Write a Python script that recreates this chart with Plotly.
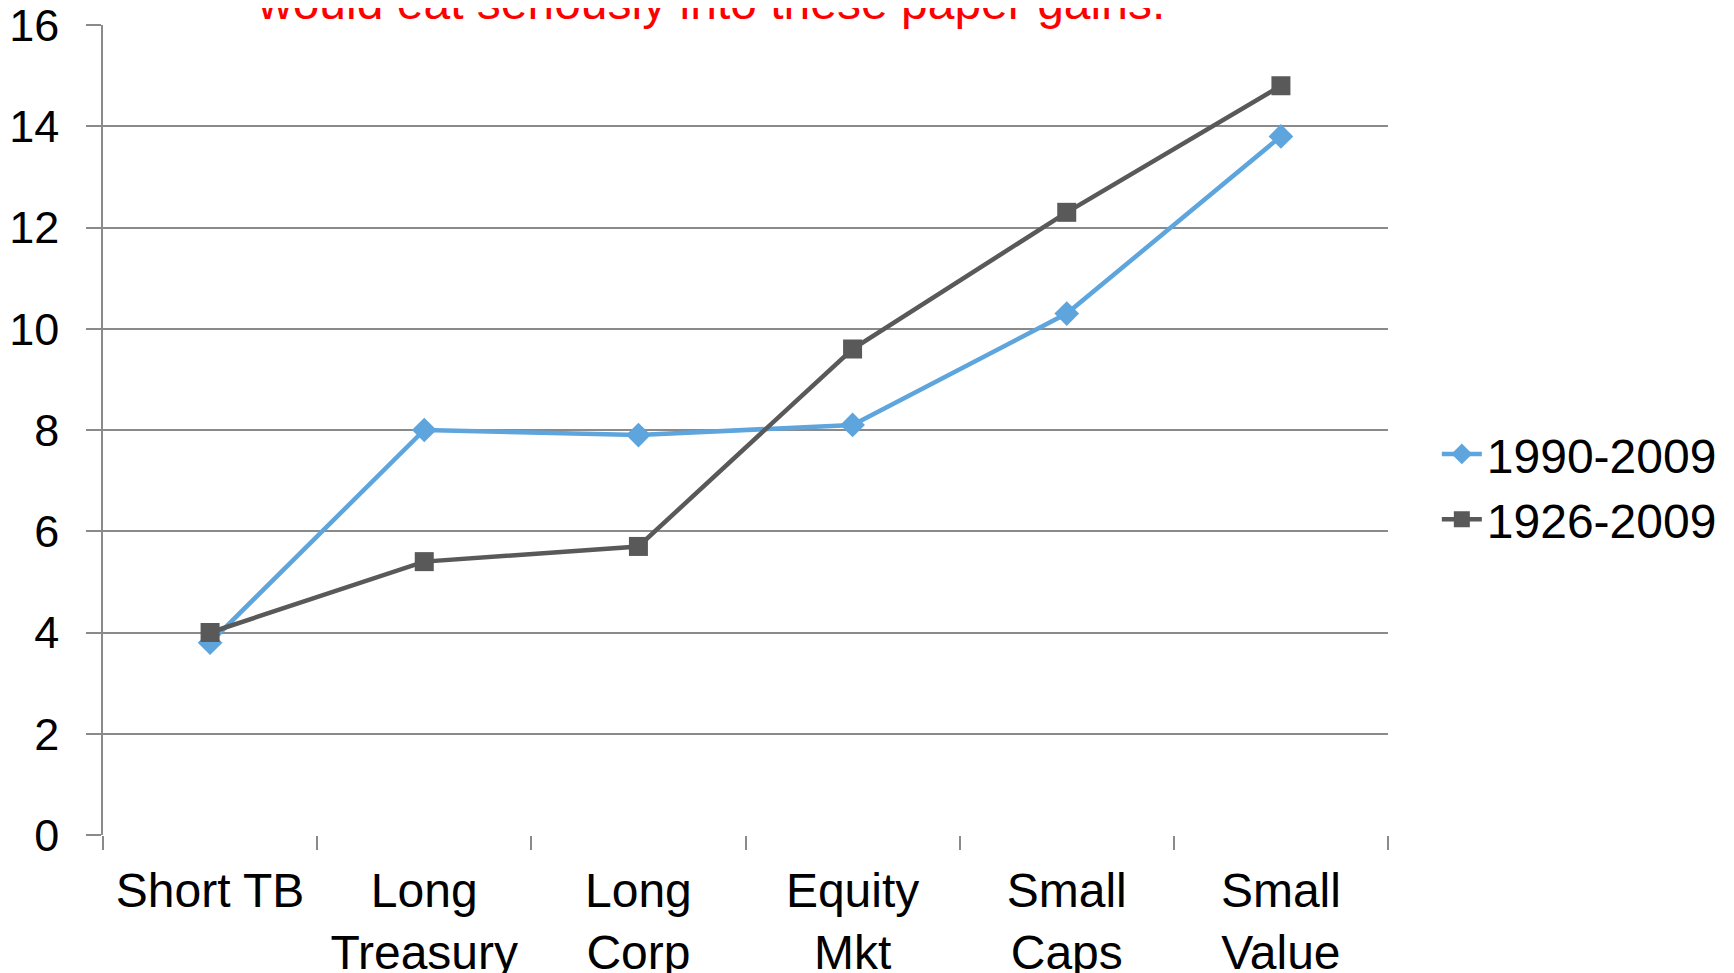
import plotly.graph_objects as go

categories = ["Short TB", "Long<br>Treasury", "Long<br>Corp", "Equity<br>Mkt", "Small<br>Caps", "Small<br>Value"]
s1990_2009 = [3.8, 8.0, 7.9, 8.1, 10.3, 13.8]
s1926_2009 = [4.0, 5.4, 5.7, 9.6, 12.3, 14.8]
y_ticks = [0, 2, 4, 6, 8, 10, 12, 14, 16]
title_text = "would eat seriously into these paper gains."

FONT = "Liberation Sans, Arial, sans-serif"
GRID = "#8a8a8a"

fig = go.Figure()
fig.add_trace(go.Scatter(
    x=categories, y=s1990_2009, name="1990-2009", mode="lines+markers",
    line=dict(color="#5da5dc", width=4.5),
    marker=dict(symbol="diamond", size=19, color="#5da5dc"),
))
fig.add_trace(go.Scatter(
    x=categories, y=s1926_2009, name="1926-2009", mode="lines+markers",
    line=dict(color="#595959", width=4.5),
    marker=dict(symbol="square", size=19, color="#595959"),
))

fig.update_layout(
    width=1726, height=965,
    margin=dict(l=95, r=342, t=17, b=138),
    paper_bgcolor="white", plot_bgcolor="white",
    font=dict(family=FONT, size=44, color="black"),
    showlegend=True,
    legend=dict(x=1.038, y=0.43, xanchor="left", yanchor="middle",
                font=dict(size=48), itemwidth=40, tracegroupgap=0),
    xaxis=dict(
        type="category", range=[-0.5, 5.5], automargin=False,
        showgrid=False, showline=False, zeroline=False,
        ticks="outside", tickson="boundaries", ticklen=14, tickwidth=1.5, tickcolor=GRID,
        ticklabelstandoff=23,
        tickfont=dict(size=48),
    ),
    yaxis=dict(
        range=[0, 16.0001], tickvals=y_ticks, automargin=False,
        showgrid=True, gridcolor=GRID, gridwidth=2,
        showline=True, linecolor=GRID, linewidth=1.5,
        zeroline=False,
        ticks="outside", ticklen=15, tickwidth=2, tickcolor=GRID,
        ticklabelstandoff=18, ticklabeloverflow="allow",
        tickfont=dict(size=45),
    ),
    annotations=[dict(
        text=title_text, xref="paper", yref="paper", x=0.473, y=1,
        xanchor="center", yanchor="bottom", showarrow=False, yshift=-6,
        font=dict(size=48, color="#ff0000", family=FONT),
    )],
)

fig.write_html("out.html")
